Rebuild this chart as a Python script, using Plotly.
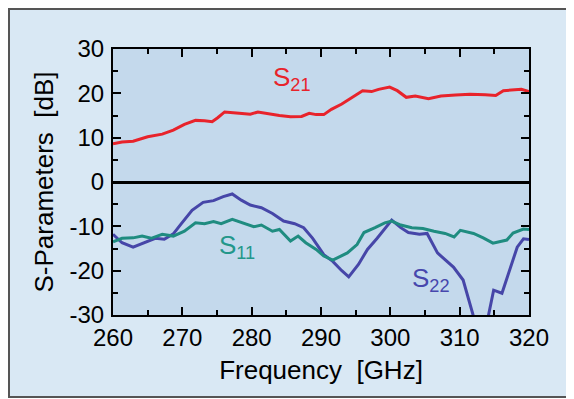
import plotly.graph_objects as go

# ---- data ----
s21_freq = [260.0, 261.3, 262.9, 265.0, 267.1, 268.7, 270.3, 271.9, 273.2, 274.3, 275.1, 276.1,
            278.2, 279.8, 280.9, 282.5, 284.0, 285.6, 287.2, 288.3, 289.3, 290.4, 291.5, 293.0,
            294.6, 296.0, 297.3, 298.3, 299.9, 301.0, 302.3, 303.6, 305.5, 307.3, 309.4, 311.5,
            313.7, 315.2, 316.3, 317.9, 318.9, 320.0]
s21_db = [8.6, 9.0, 9.2, 10.2, 10.8, 11.7, 13.0, 13.9, 13.8, 13.6, 14.5, 15.8,
          15.5, 15.3, 15.8, 15.3, 15.0, 14.7, 14.8, 15.5, 15.2, 15.2, 16.4, 17.6,
          19.1, 20.6, 20.4, 20.9, 21.4, 20.6, 19.1, 19.4, 18.8, 19.4, 19.6, 19.8,
          19.7, 19.5, 20.6, 20.8, 20.9, 20.4]

s11_freq = [260.0, 261.3, 262.9, 264.2, 265.5, 267.1, 268.7, 270.3, 271.9, 273.2, 274.5, 275.6,
            277.2, 278.8, 280.3, 281.4, 283.0, 284.0, 285.6, 286.7, 287.8, 289.3, 290.4, 291.7,
            292.5, 293.8, 295.2, 296.2, 297.8, 299.2, 300.2, 301.5, 303.1, 304.7, 306.3, 307.9,
            309.2, 310.1, 312.0, 313.4, 314.8, 316.8, 317.7, 319.2, 320.0]
s11_db = [-13.5, -12.7, -12.6, -12.2, -12.7, -11.8, -12.2, -11.1, -9.2, -9.4, -8.9, -9.4,
          -8.4, -9.2, -10.1, -9.7, -11.1, -10.7, -13.3, -12.2, -13.7, -15.2, -16.7, -17.6,
          -17.0, -16.0, -14.1, -11.4, -10.3, -9.2, -8.8, -9.7, -10.3, -10.5, -11.1, -11.6,
          -12.4, -10.9, -11.6, -12.6, -13.8, -13.1, -11.5, -10.6, -10.7]

s22_freq = [260.0, 261.3, 262.9, 264.5, 266.1, 267.4, 268.7, 269.8, 271.4, 273.0, 274.5, 275.9,
            277.2, 278.5, 279.8, 281.4, 283.0, 284.6, 286.2, 287.5, 288.8, 290.4, 291.7, 293.0,
            294.0, 295.4, 296.7, 298.1, 299.4, 300.2, 301.5, 302.6, 304.2, 305.3, 306.8, 309.1,
            310.5, 311.2, 311.9, 312.8, 313.6, 314.1, 314.9, 316.1, 317.3, 318.3, 319.2, 320.0]
s22_db = [-11.8, -13.7, -14.7, -13.7, -12.7, -12.9, -11.7, -9.5, -6.4, -4.6, -4.2, -3.3,
          -2.7, -4.1, -5.2, -5.8, -7.1, -8.8, -9.4, -10.3, -12.7, -16.4, -17.9, -20.0,
          -21.4, -18.6, -15.2, -12.7, -10.3, -8.6, -10.3, -11.4, -11.8, -11.6, -16.0, -19.2,
          -22.1, -25.9, -29.8, -36.0, -36.0, -30.5, -24.4, -25.1, -19.2, -14.7, -12.8, -13.0]

x_ticks = [260, 270, 280, 290, 300, 310, 320]
y_ticks = [-30, -20, -10, 0, 10, 20, 30]
y_tick_labels = ["-30", "-20", "-10", "0", "10", "20", "30"]

labels = [("S<sub>21</sub>", 282.8, 23.3, "#e8232b"),
          ("S<sub>11</sub>", 275.0, -14.6, "#23978a"),
          ("S<sub>22</sub>", 302.8, -22.0, "#4747ad")]

RED = "#e8232b"
TEAL = "#1f8c80"
BLUE = "#4646a8"
FONT = "Liberation Sans, Arial, sans-serif"

fig = go.Figure()
fig.add_trace(go.Scatter(x=s21_freq, y=s21_db, mode="lines",
                         line=dict(color=RED, width=3), name="S21"))
fig.add_trace(go.Scatter(x=s22_freq, y=s22_db, mode="lines",
                         line=dict(color=BLUE, width=3), name="S22"))
fig.add_trace(go.Scatter(x=s11_freq, y=s11_db, mode="lines",
                         line=dict(color=TEAL, width=3), name="S11"))

for txt, xv, yv, col in labels:
    fig.add_annotation(x=xv, y=yv, text=txt, showarrow=False, xanchor="left", yanchor="middle",
                       font=dict(family=FONT, size=26, color=col))

axis_common = dict(
    showgrid=False, showline=True, linecolor="black", linewidth=2, mirror="ticks",
    ticks="inside", ticklen=8, tickwidth=2, tickcolor="black",
    tickfont=dict(family=FONT, size=24, color="black"),
)

fig.update_xaxes(range=[260, 320], tickvals=x_ticks, zeroline=False,
                 minor=dict(dtick=5, ticks="inside", ticklen=5, tickwidth=2, tickcolor="black"),
                 title=dict(text="Frequency\u00a0 [GHz]", font=dict(family=FONT, size=26, color="black"),
                            standoff=11),
                 **axis_common)
fig.update_yaxes(range=[-30, 30], tickvals=y_ticks, ticktext=y_tick_labels,
                 zeroline=True, zerolinecolor="black",
                 zerolinewidth=2.5, ticklabelstandoff=2,
                 minor=dict(dtick=5, ticks="inside", ticklen=5, tickwidth=2, tickcolor="black"),
                 title=dict(text="S-Parameters\u00a0 [dB]", font=dict(family=FONT, size=26, color="black"),
                            standoff=8),
                 **axis_common)

# page body has an 8px margin: figure is sized so the plot lands where the reference has it
fig.update_layout(
    width=566, height=391,
    margin=dict(l=105, r=45, t=41, b=84),
    paper_bgcolor="white",
    plot_bgcolor="rgba(0,0,0,0)",
    showlegend=False,
    shapes=[
        dict(type="rect", xref="paper", yref="paper", layer="below",
             x0=-0.25, x1=1.0962, y0=-0.3083, y1=1.1504,
             fillcolor="#d9e8f4", line=dict(color="#555555", width=2)),
        dict(type="rect", xref="x domain", yref="y domain", layer="below",
             x0=0, x1=1, y0=0, y1=1, fillcolor="#c4d9ec", line=dict(width=0)),
    ],
)

fig.write_html("out.html")
